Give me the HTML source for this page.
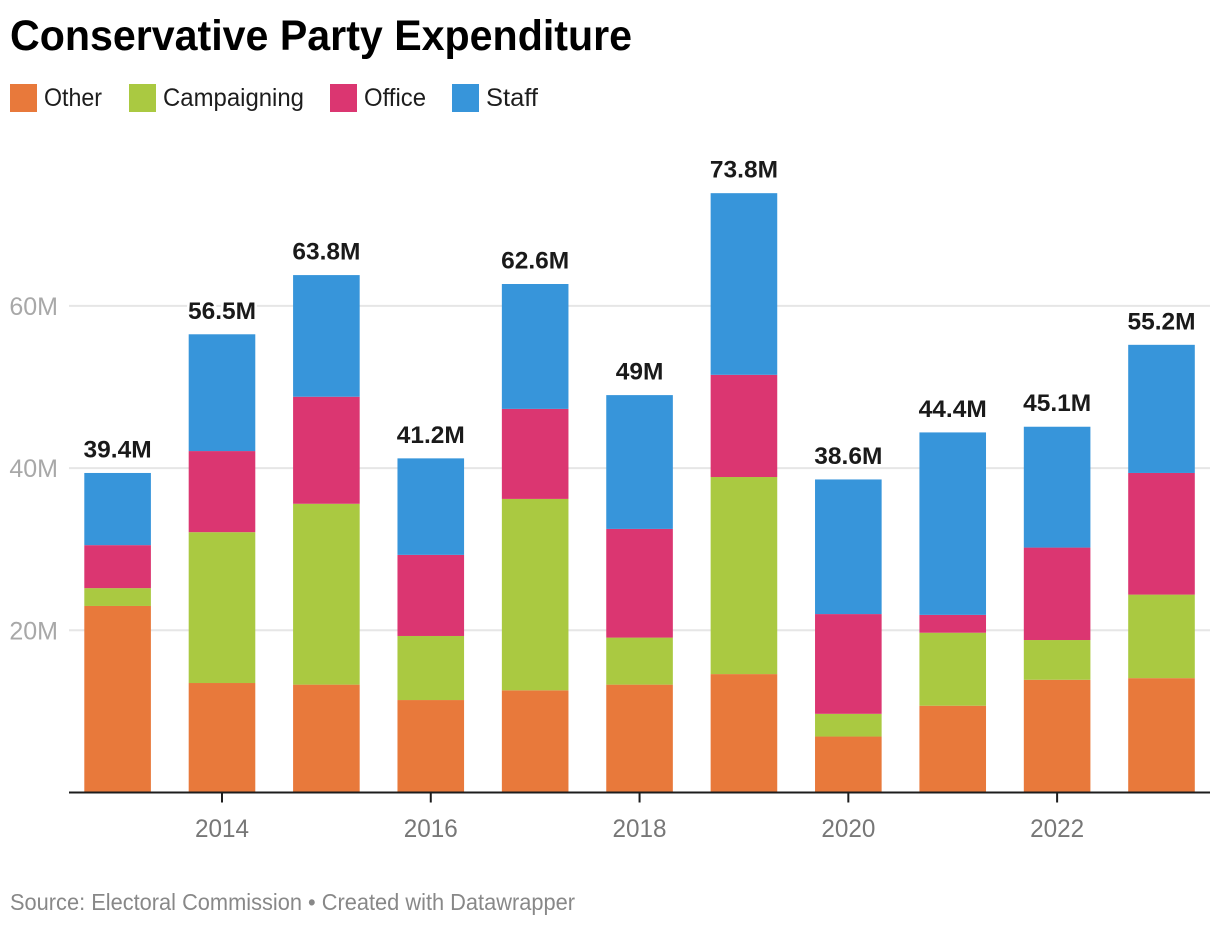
<!DOCTYPE html>
<html lang="en">
<head>
<meta charset="utf-8">
<title>Conservative Party Expenditure</title>
<style>
html,body{margin:0;padding:0;background:#fff;}
body{width:1220px;height:926px;overflow:hidden;}
svg{display:block;font-family:"Liberation Sans",sans-serif;}
</style>
</head>
<body>
<svg id="chart" width="1220" height="926" viewBox="0 0 1220 926" xmlns="http://www.w3.org/2000/svg">
  <text x="10" y="50" font-size="43" font-weight="700" fill="#000" textLength="622" lengthAdjust="spacingAndGlyphs">Conservative Party Expenditure</text>
  <g>
    <g>
      <rect x="10" y="84" width="27" height="28" fill="#e8793b"/>
      <text x="44" y="106" font-size="25" fill="#1d1d1d" textLength="58" lengthAdjust="spacingAndGlyphs">Other</text>
    </g>
    <g>
      <rect x="129" y="84" width="27" height="28" fill="#aac941"/>
      <text x="163" y="106" font-size="25" fill="#1d1d1d" textLength="141" lengthAdjust="spacingAndGlyphs">Campaigning</text>
    </g>
    <g>
      <rect x="330" y="84" width="27" height="28" fill="#db3671"/>
      <text x="364" y="106" font-size="25" fill="#1d1d1d" textLength="62" lengthAdjust="spacingAndGlyphs">Office</text>
    </g>
    <g>
      <rect x="452" y="84" width="27" height="28" fill="#3795da"/>
      <text x="486" y="106" font-size="25" fill="#1d1d1d" textLength="52" lengthAdjust="spacingAndGlyphs">Staff</text>
    </g>
  </g>
  <g id="grid"></g>
  <g id="bars"></g>
  <g id="totals"></g>
  <g id="xaxis"></g>
  <text x="10" y="910" font-size="23" fill="#888888" textLength="565" lengthAdjust="spacingAndGlyphs">Source: Electoral Commission • Created with Datawrapper</text>
</svg>
<script>
const years = [2013, 2014, 2015, 2016, 2017, 2018, 2019, 2020, 2021, 2022, 2023];
const other = [23.0, 13.5, 13.3, 11.4, 12.6, 13.3, 14.6, 6.9, 10.7, 13.9, 14.1];
const campaigning = [2.2, 18.6, 22.3, 7.9, 23.6, 5.8, 24.3, 2.8, 9.0, 4.9, 10.3];
const office = [5.3, 10.0, 13.2, 10.0, 11.1, 13.4, 12.6, 12.3, 2.2, 11.4, 15.0];
const staff = [8.9, 14.4, 15.0, 11.9, 15.4, 16.5, 22.4, 16.6, 22.5, 14.9, 15.8];
const totals = ['39.4M', '56.5M', '63.8M', '41.2M', '62.6M', '49M', '73.8M', '38.6M', '44.4M', '45.1M', '55.2M'];
const yTicks = [20, 40, 60];
const xTicks = [2014, 2016, 2018, 2020, 2022];

const SVG_NS = 'http://www.w3.org/2000/svg';
const BASE_Y = 792.5;
const Y_SCALE = 8.11;
const X_FIRST = 117.6;
const X_STEP = 104.39;
const BAR_W = 66.6;
const AXIS_LEFT = 69;
const AXIS_RIGHT = 1210;

function yPos(v) { return BASE_Y - v * Y_SCALE; }
function xPos(year) { return X_FIRST + (year - years[0]) * X_STEP; }
function make(tag, attrs) {
  const el = document.createElementNS(SVG_NS, tag);
  Object.keys(attrs).forEach(function (k) { el.setAttribute(k, attrs[k]); });
  return el;
}

const gridLayer = document.getElementById('grid');
yTicks.forEach(function (t) {
  const line = make('line', { x1: AXIS_LEFT, x2: AXIS_RIGHT, y1: yPos(t), y2: yPos(t), stroke: '#e6e6e6', 'stroke-width': 2 });
  
  
  gridLayer.appendChild(line);
  const label = make('text', { x: 58, y: yPos(t) + 9, 'text-anchor': 'end', 'font-size': 25, fill: '#a8a8a8' });
  
  
  label.textContent = t + 'M';
  gridLayer.appendChild(label);
});

const stackSeries = [other, campaigning, office, staff];
const stackColors = ['#e8793b', '#aac941', '#db3671', '#3795da'];
const barLayer = document.getElementById('bars');
years.forEach(function (year, i) {
  let running = 0;
  stackSeries.forEach(function (series, s) {
    const top = running + series[i];
    const rect = make('rect', {
      x: xPos(year) - BAR_W / 2,
      y: yPos(top),
      width: BAR_W,
      height: yPos(running) - yPos(top),
      fill: stackColors[s]
    });
    
    
    barLayer.appendChild(rect);
    running = top;
  });
  const totalLabel = make('text', {
    x: xPos(year),
    y: yPos(running) - 15.5,
    'text-anchor': 'middle',
    'font-size': 24.5,
    'font-weight': 700,
    fill: '#1a1a1a',
    stroke: '#ffffff',
    'stroke-width': 5,
    'paint-order': 'stroke',
    'stroke-linejoin': 'round'
  });
  
  
  totalLabel.textContent = totals[i];
  document.getElementById('totals').appendChild(totalLabel);
});

const axisLayer = document.getElementById('xaxis');
const axisLine = make('line', { x1: AXIS_LEFT, x2: AXIS_RIGHT, y1: BASE_Y, y2: BASE_Y, stroke: '#1d1d1d', 'stroke-width': 2 });


axisLayer.appendChild(axisLine);
xTicks.forEach(function (year) {
  const tick = make('line', { x1: xPos(year), x2: xPos(year), y1: BASE_Y, y2: BASE_Y + 10, stroke: '#1d1d1d', 'stroke-width': 2 });
  
  
  axisLayer.appendChild(tick);
  const label = make('text', { x: xPos(year), y: 837, 'text-anchor': 'middle', 'font-size': 25, fill: '#777777', textLength: 54, lengthAdjust: 'spacingAndGlyphs' });
  
  
  label.textContent = year;
  axisLayer.appendChild(label);
});
</script>
</body>
</html>
